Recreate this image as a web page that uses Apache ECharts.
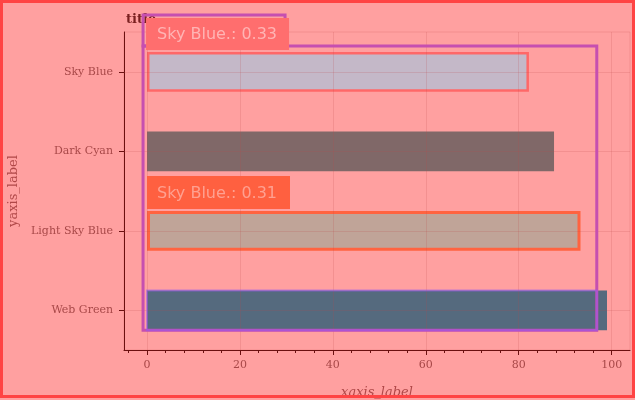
<!DOCTYPE html>
<html>
<head>
<meta charset="utf-8">
<script src="https://cdn.jsdelivr.net/npm/echarts@6/dist/echarts.min.js"></script>
<style>
  html, body { margin: 0; padding: 0; background: #ffa0a0; }
  #chart { width: 635px; height: 400px; }
</style>
</head>
<body>
<div id="chart"></div>
<script>
"use strict";
// chart values
var categories = ['Sky Blue', 'Dark Cyan', 'Light Sky Blue', 'Web Green'];
var values = [82.2, 87.6, 93.3, 99.0];
var barColors = ['#c4b8c8', '#806868', '#c0a498', '#556a7e'];
var xTicks = [0, 20, 40, 60, 80, 100];
var xMinorTicks = [-4, 4, 8, 12, 16, 24, 28, 32, 36, 44, 48, 52, 56, 64, 68, 72, 76, 84, 88, 92, 96];
var boxLabels = ['Sky Blue.: 0.33', 'Sky Blue.: 0.31'];

var axisColor = '#6b1010';
var textColor = '#a84848';
var gridColor = 'rgba(190,70,70,0.18)';
var xMin = -4.95, xMax = 103.95;

var dom = document.getElementById('chart');
var myChart = echarts.init(dom, null, { renderer: 'canvas' });

var barData = values.map(function (v, i) {
    var item = { value: v, itemStyle: { color: barColors[i] } };
    if (i === 0) {
        item.itemStyle.borderColor = '#ff6868';
        item.itemStyle.borderWidth = 2.5;
    }
    if (i === 2) {
        item.itemStyle.borderColor = '#ff6340';
        item.itemStyle.borderWidth = 3;
    }
    return item;
});

var option = {
    backgroundColor: '#ffa0a0',
    animation: false,
    title: {
        text: 'title',
        left: 121,
        top: 8,
        textStyle: { fontFamily: 'DejaVu Serif', fontSize: 13, fontWeight: 'bold', color: '#7a2020' }
    },
    grid: {
        left: 124, right: 5, top: 32, bottom: 50,
        outerBoundsMode: 'none',
        containLabel: false,
        show: true, borderColor: gridColor, borderWidth: 1, backgroundColor: 'transparent'
    },
    xAxis: [{
        type: 'value',
        min: xMin, max: xMax,
        name: 'xaxis_label',
        nameLocation: 'middle',
        nameGap: 36,
        nameTextStyle: { fontFamily: 'DejaVu Serif', fontStyle: 'italic', fontSize: 13, color: '#b04848' },
        axisLine: { show: true, onZero: false, lineStyle: { color: axisColor, width: 1 } },
        axisTick: { show: true, length: 5, customValues: xTicks, lineStyle: { color: axisColor } },
        axisLabel: { customValues: xTicks, margin: 10, fontFamily: 'DejaVu Serif', fontSize: 11, color: textColor },
        splitLine: { show: false }
    }, {
        type: 'value',
        position: 'bottom',
        min: xMin, max: xMax,
        axisLine: { show: false, onZero: false },
        axisTick: { show: true, length: 3, customValues: xMinorTicks, lineStyle: { color: axisColor } },
        axisLabel: { show: false },
        splitLine: { show: false }
    }],
    yAxis: {
        type: 'category',
        data: categories,
        inverse: true,
        name: 'yaxis_label',
        nameLocation: 'middle',
        nameGap: 104,
        nameRotate: 90,
        nameTextStyle: { fontFamily: 'DejaVu Serif', fontSize: 13, color: '#b04848' },
        axisLine: { show: true, onZero: false, lineStyle: { color: axisColor, width: 1 } },
        axisTick: { show: true, alignWithLabel: true, length: 5, lineStyle: { color: axisColor } },
        axisLabel: { margin: 11, fontFamily: 'DejaVu Serif', fontSize: 11, color: textColor },
        splitLine: { show: false }
    },
    series: [{
        type: 'line',
        data: [],
        z: 1,
        silent: true,
        markLine: {
            silent: true,
            symbol: 'none',
            label: { show: false },
            lineStyle: { color: gridColor, type: 'solid', width: 1 },
            data: xTicks.map(function (t) { return { xAxis: t }; })
                .concat(categories.map(function (c) { return { yAxis: c }; }))
        }
    }, {
        type: 'bar',
        data: barData,
        barWidth: '50%',
        z: 2
    }]
};

if (option && typeof option === "object") {
    myChart.setOption(option, true);
}

// annotation boxes placed from data coordinates
function px(x, cat) {
    return myChart.convertToPixel({ gridIndex: 0 }, [x, cat]);
}
var gridRect = myChart.getModel().getComponent('grid', 0).coordinateSystem.getRect();
var halfBar = gridRect.height / categories.length * 0.25;
var skyTop = px(0, categories[0])[1] - halfBar;
var webBottom = px(0, categories[3])[1] + halfBar;
var lightTop = px(0, categories[2])[1] - halfBar;
var webTop = px(0, categories[3])[1] - halfBar;
var left = px(-0.85, categories[0])[0];
var right = px(96.8, categories[0])[0];
var zeroX = px(0, categories[0])[0];

var labelFont = '16px "DejaVu Sans"';
myChart.setOption({
    graphic: [
        // purple box
        { type: 'rect', z: 100, shape: { x: left, y: skyTop - 6, width: right - left, height: webBottom - skyTop + 6 },
          style: { fill: 'none', stroke: '#c64fb0', lineWidth: 3 } },
        { type: 'rect', z: 101, shape: { x: zeroX, y: webTop, width: right - zeroX, height: webBottom - webTop },
          style: { fill: 'none', stroke: 'rgba(150,90,240,0.55)', lineWidth: 2 } },
        { type: 'rect', z: 100, shape: { x: left, y: skyTop - 37, width: 142, height: 31 },
          style: { fill: 'none', stroke: '#c64fb0', lineWidth: 3 } },
        { type: 'rect', z: 102, shape: { x: left + 3, y: skyTop - 34, width: 143, height: 32 },
          style: { fill: '#ff6e6e' } },
        { type: 'text', z: 103, x: left + 14, y: skyTop - 17,
          style: { text: boxLabels[0], font: labelFont, fill: '#ffb4b4', verticalAlign: 'middle' } },
        // orange label
        { type: 'rect', z: 102, shape: { x: zeroX, y: lightTop - 35, width: 143, height: 33 },
          style: { fill: '#ff6040' } },
        { type: 'text', z: 103, x: zeroX + 10, y: lightTop - 17,
          style: { text: boxLabels[1], font: labelFont, fill: '#ffa090', verticalAlign: 'middle' } },
        // outer frame
        { type: 'rect', z: 200, shape: { x: 1.5, y: 1.5, width: 632, height: 395 },
          style: { fill: 'none', stroke: '#ff4444', lineWidth: 3 } }
    ]
});
</script>
</body>
</html>
